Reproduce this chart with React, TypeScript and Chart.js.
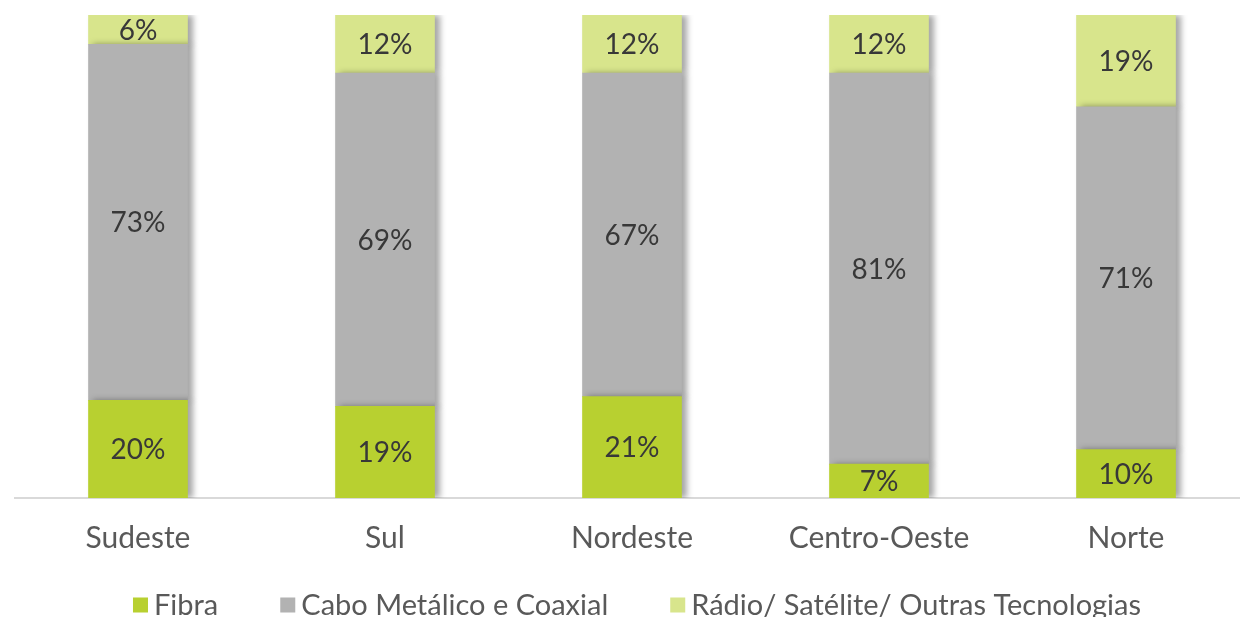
import React, { useEffect, useRef } from "react";
import { Chart, registerables } from "chart.js";

Chart.register(...registerables);

const categories = ["Sudeste", "Sul", "Nordeste", "Centro-Oeste", "Norte"];
const fibra = [20, 19, 21, 7, 10];
const cabo = [73, 69, 67, 81, 71];
const radio = [6, 12, 12, 12, 19];
const seriesNames = ["Fibra", "Cabo Metálico e Coaxial", "Rádio/ Satélite/ Outras Tecnologias"];
const seriesColors = ["#b8d030", "#b2b2b2", "#d8e58c"];

const FONT = "Lato, 'Open Sans', sans-serif";

export default function App() {
  const ref = useRef<HTMLCanvasElement | null>(null);

  useEffect(() => {
    if (!ref.current) return;
    const raw = [fibra, cabo, radio];
    const totals = categories.map((_, i) => fibra[i] + cabo[i] + radio[i]);

    const plugin = {
      id: "shadowLabelsLegend",
      beforeDatasetsDraw(chart: any) {
        const ctx = chart.ctx;
        ctx.save();
        ctx.shadowColor = "rgba(0,0,0,0.35)";
        ctx.shadowBlur = 6;
        ctx.shadowOffsetX = 5;
        ctx.shadowOffsetY = 0;
      },
      afterDatasetsDraw(chart: any) {
        const ctx = chart.ctx;
        ctx.restore();
        ctx.save();
        ctx.font = `28px ${FONT}`;
        ctx.fillStyle = "#383838";
        ctx.textAlign = "center";
        ctx.textBaseline = "middle";
        chart.data.datasets.forEach((ds: any, di: number) => {
          const meta = chart.getDatasetMeta(di);
          meta.data.forEach((el: any, i: number) => {
            const p = el.getProps(["x", "y", "base"], true);
            ctx.fillText(`${raw[di][i]}%`, p.x, (p.y + p.base) / 2 + 1);
          });
        });
        ctx.restore();
      },
      afterDraw(chart: any) {
        const ctx = chart.ctx;
        ctx.save();
        ctx.font = `29px ${FONT}`;
        ctx.textBaseline = "middle";
        ctx.textAlign = "left";
        const box = 15;
        const gap = 6;
        const spacing = 62;
        const widths = seriesNames.map((n) => box + gap + ctx.measureText(n).width);
        const total = widths.reduce((a, b) => a + b, 0) + spacing * (widths.length - 1);
        const ca = chart.chartArea;
        let x = (ca.left + ca.right) / 2 + 5 - total / 2;
        const y = chart.height - 12;
        seriesNames.forEach((n, i) => {
          ctx.fillStyle = seriesColors[i];
          ctx.fillRect(x, y - box / 2, box, box);
          ctx.fillStyle = "#595959";
          ctx.fillText(n, x + box + gap, y + 1);
          x += widths[i] + spacing;
        });
        ctx.restore();
      },
    };

    const chart = new Chart(ref.current, {
      type: "bar",
      data: {
        labels: categories,
        datasets: raw.map((arr, di) => ({
          label: seriesNames[di],
          data: arr.map((v, i) => (v / totals[i]) * 100),
          backgroundColor: seriesColors[di],
          borderWidth: 0,
          barThickness: 99,
        })),
      },
      options: {
        animation: false,
        responsive: true,
        maintainAspectRatio: false,
        layout: { padding: { left: 14.5, right: 12.5, top: 15, bottom: 39 } },
        plugins: {
          legend: { display: false },
          tooltip: { enabled: false },
        },
        scales: {
          x: {
            stacked: true,
            grid: { display: false, drawTicks: false },
            border: { display: true, color: "#d9d9d9", width: 2 },
            ticks: {
              padding: 22,
              color: "#595959",
              font: { family: FONT, size: 30 },
              maxRotation: 0,
              autoSkip: false,
            },
          },
          y: {
            stacked: true,
            display: false,
            min: 0,
            max: 100,
          },
        },
      },
      plugins: [plugin],
    });
    return () => chart.destroy();
  }, []);

  return (
    <div style={{ position: "fixed", left: 0, top: 0, width: 1240, height: 617, overflow: "hidden", background: "#fff" }}>
      <div style={{ position: "absolute", left: 0, top: 0, width: 1262, height: 617 }}>
        <canvas ref={ref} />
      </div>
    </div>
  );
}
